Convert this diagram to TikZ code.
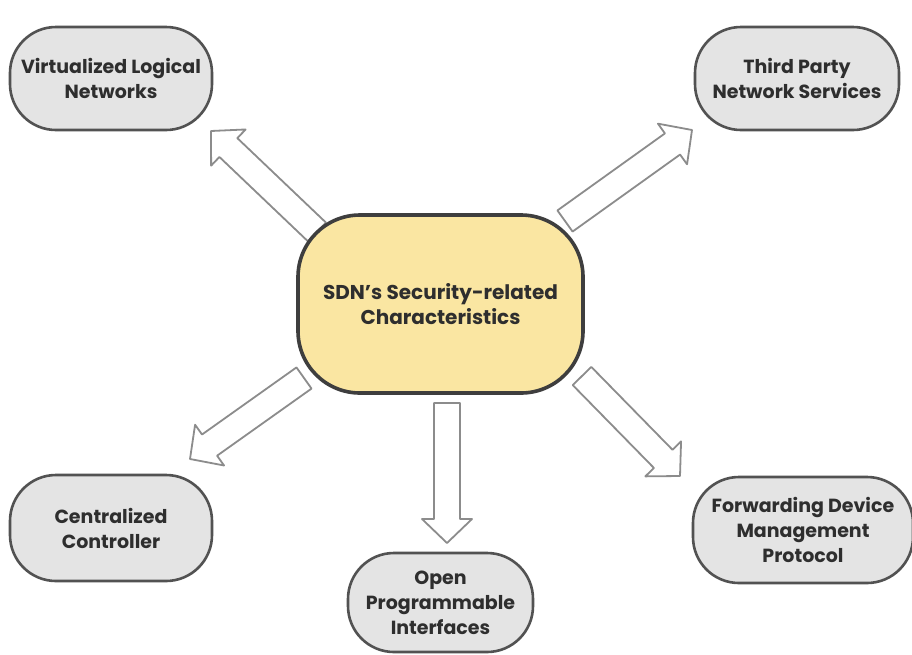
\documentclass[tikz,border=0pt]{standalone}
\usepackage{fontspec}
\setmainfont{Poppins}
\usetikzlibrary{calc,backgrounds}

\definecolor{outerfill}{HTML}{E4E4E4}
\definecolor{outerline}{HTML}{525252}
\definecolor{corefill}{HTML}{FAE6A2}
\definecolor{coreline}{HTML}{3E3E3E}
\definecolor{arrowline}{HTML}{8C8C8C}
\definecolor{labeltext}{HTML}{2E2E2E}

\tikzset{
  topic/.style={draw=outerline, line width=2.6pt, fill=outerfill,
    rounded corners=46pt, align=center, text=labeltext,
    font=\bfseries\fontsize{19}{25}\selectfont, inner sep=0pt},
  core/.style={draw=coreline, line width=3.6pt, fill=corefill,
    rounded corners=62pt, align=center, text=labeltext,
    font=\bfseries\fontsize{20}{25}\selectfont, inner sep=0pt,
    minimum width=285pt, minimum height=178pt},
  blockarrow/.style={draw=arrowline, line width=1.8pt, fill=white,
    line join=round}
}

% hollow block arrow from #1 (tail) to #2 (tip)
\newcommand{\blockarrow}[2]{%
  \draw[blockarrow]
    ($(#1)!13pt!90:(#2)$) --
    ($($(#2)!24pt!(#1)$)!13pt!90:(#2)$) --
    ($($(#2)!24pt!(#1)$)!25pt!90:(#2)$) --
    (#2) --
    ($($(#2)!24pt!(#1)$)!25pt!-90:(#2)$) --
    ($($(#2)!24pt!(#1)$)!13pt!-90:(#2)$) --
    ($(#1)!13pt!-90:(#2)$) -- cycle;}

\begin{document}
\begin{tikzpicture}[x=1pt,y=-1pt]
  \useasboundingbox (0,0) rectangle (912,654);

  % central topic
  \node[core] (core) at (440.5,304) {SDN{\char"0027}s Security-related\\Characteristics};

  % surrounding characteristics
  \node[topic, minimum width=202pt, minimum height=103pt] (vln) at (111,78.5)
    {Virtualized Logical\\Networks};
  \node[topic, minimum width=204pt, minimum height=103pt] (tpns) at (797,78.5)
    {Third Party\\Network Services};
  \node[topic, minimum width=202pt, minimum height=106pt] (cc) at (111,528)
    {Centralized\\Controller};
  \node[topic, minimum width=185pt, minimum height=99pt] (opi) at (440.5,602.5)
    {Open\\Programmable\\Interfaces};
  \node[topic, minimum width=220pt, minimum height=106pt] (fdmp) at (803,530)
    {Forwarding Device\\Management\\Protocol};

  % arrow end points
  \coordinate (tVln) at (317,232);  \coordinate (hVln) at (211,131);
  \coordinate (tTpns) at (565,221); \coordinate (hTpns) at (692,130);
  \coordinate (tCc) at (304,378);   \coordinate (hCc) at (190,459);
  \coordinate (tOpi) at (447,403);  \coordinate (hOpi) at (447,543);
  \coordinate (tFdmp) at (582,376); \coordinate (hFdmp) at (680,476);

  \begin{scope}[on background layer]
    \fill[white] (0,0) rectangle (912,654);
    \blockarrow{tVln}{hVln}
    \blockarrow{tTpns}{hTpns}
    \blockarrow{tCc}{hCc}
    \blockarrow{tOpi}{hOpi}
    \blockarrow{tFdmp}{hFdmp}
  \end{scope}
\end{tikzpicture}
\end{document}
